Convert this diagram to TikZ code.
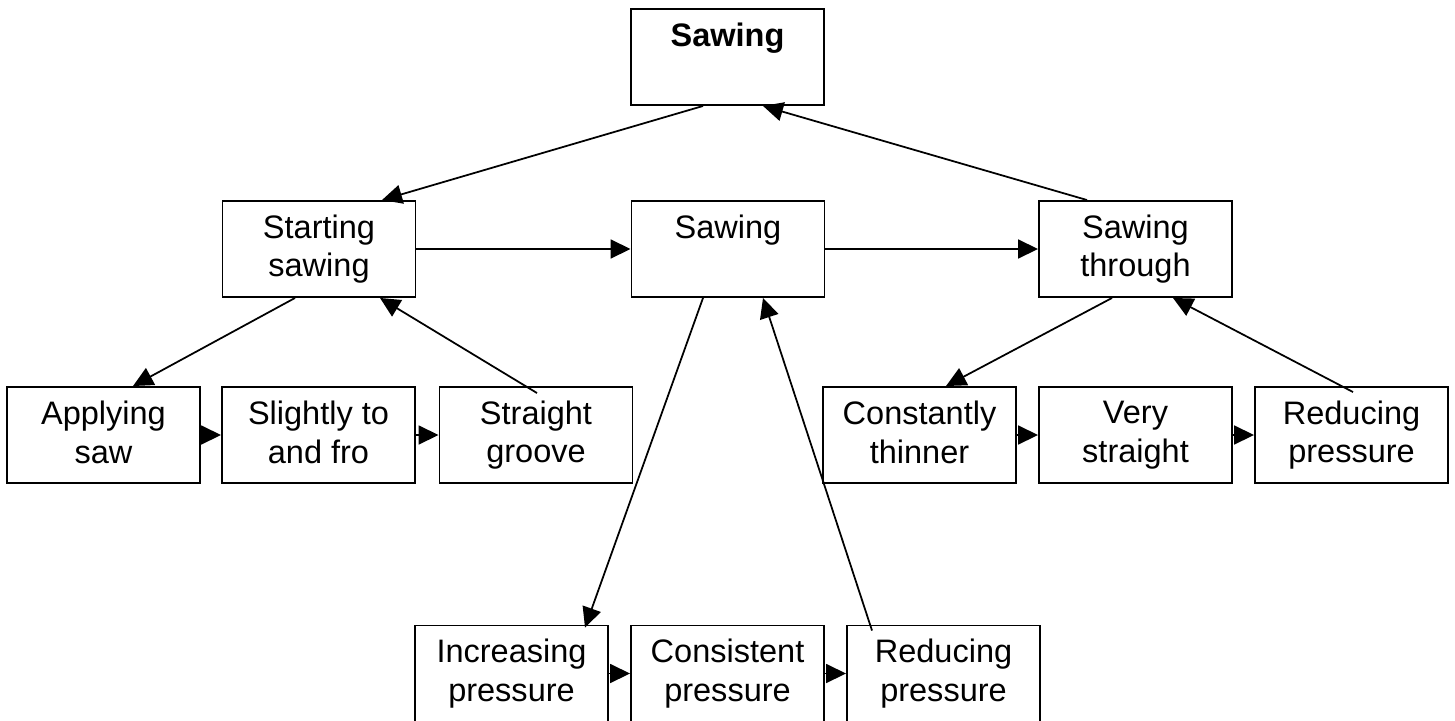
\documentclass[tikz,border=0pt]{standalone}
\usepackage{fontspec}
\setmainfont{Liberation Sans}
\usetikzlibrary{arrows.meta}
\tikzset{
	box/.style={draw,line width=1.1pt,minimum width=3.86cm,minimum height=1.92cm,inner sep=0pt,align=center,font=\fontsize{18.5}{22}\selectfont,execute at begin node={\rule{0pt}{26pt}},execute at end node={\rule[-3pt]{0pt}{0pt}}},
	link/.style={line width=1pt,-{Triangle[length=0.4cm,width=0.38cm]}}
}
\begin{document}
\begin{tikzpicture}
				\useasboundingbox (0,0) rectangle (29.1,-14.4);
				\node[box] (top) at (14.55,-1.14) {\textbf{Sawing}\\};
				\node[box] (starting) at (6.38,-4.98) {Starting\\sawing};
				\node[box] (sawmid) at (14.56,-4.98) {Sawing\\};
				\node[box] (through) at (22.71,-4.98) {Sawing\\through};
				\node[box] (applying) at (2.07,-8.7) {Applying\\saw};
				\node[box] (slightly) at (6.37,-8.7) {Slightly to\\and fro};
				\node[box] (straight) at (10.72,-8.7) {Straight\\groove};
				\node[box] (constantly) at (18.39,-8.7) {Constantly\\thinner};
				\node[box] (very) at (22.71,-8.7) {Very\\straight};
				\node[box] (reducingA) at (27.03,-8.7) {Reducing\\pressure};
				\node[box] (increasing) at (10.23,-13.47) {Increasing\\pressure};
				\node[box] (consistent) at (14.55,-13.47) {Consistent\\pressure};
				\node[box] (reducingB) at (18.87,-13.47) {Reducing\\pressure};
				\draw[link] ([xshift=-0.49cm]top.south) -- ([xshift=1.26cm]starting.north);
				\draw[link] ([xshift=-0.97cm]through.north) -- ([xshift=0.71cm]top.south);
				\draw[link] (starting) -- (sawmid);
				\draw[link] (sawmid) -- (through);
				\draw[link] ([xshift=-0.48cm]starting.south) -- ([xshift=0.59cm]applying.north);
				\draw[link] ([xshift=0.02cm,yshift=-0.14cm]straight.north) -- ([xshift=1.22cm]starting.south);
				\draw[link] (applying) -- (slightly);
				\draw[link] (slightly) -- (straight);
				\draw[link] ([xshift=-0.5cm]sawmid.south) -- ([xshift=1.47cm,yshift=-0.06cm]increasing.north);
				\draw[link] ([xshift=-1.43cm,yshift=-0.12cm]reducingB.north) -- ([xshift=0.7cm]sawmid.south);
				\draw[link] (increasing) -- (consistent);
				\draw[link] (consistent) -- (reducingB);
				\draw[link] ([xshift=-0.47cm]through.south) -- ([xshift=0.53cm]constantly.north);
				\draw[link] ([xshift=0.03cm,yshift=-0.12cm]reducingA.north) -- ([xshift=0.75cm]through.south);
				\draw[link] (constantly) -- (very);
				\draw[link] (very) -- (reducingA);
			\end{tikzpicture}
\end{document}
